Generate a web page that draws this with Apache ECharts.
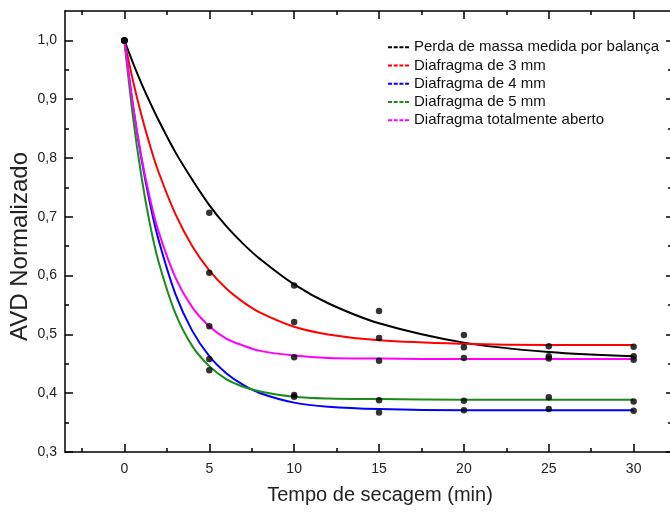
<!DOCTYPE html>
<html>
<head>
<meta charset="utf-8">
<script src="https://cdn.jsdelivr.net/npm/echarts@6/dist/echarts.min.js"></script>
<style>
  html, body { margin: 0; padding: 0; background: #fff; }
  #chart { width: 670px; height: 515px; }
</style>
</head>
<body>
<div id="chart"></div>
<script>
// medidas (pontos pretos)
var tempos = [0, 5, 10, 15, 20, 25, 30];
var perdaMassa = [1.0, 0.707, 0.583, 0.540, 0.499, 0.463, 0.463];
var diaf3 = [1.0, 0.605, 0.521, 0.494, 0.478, 0.480, 0.479];
var diaf4 = [1.0, 0.458, 0.394, 0.367, 0.371, 0.373, 0.370];
var diaf5 = [1.0, 0.439, 0.397, 0.388, 0.387, 0.393, 0.386];
var diafAberto = [1.0, 0.514, 0.461, 0.455, 0.460, 0.459, 0.457];

// curvas ajustadas
var temposCurva = [0, 0.5, 1, 1.5, 2, 3, 4, 5, 6, 7, 8, 10, 12, 15, 20, 25, 30];
var curvaPerda = [1.0, 0.962, 0.927, 0.895, 0.865, 0.810, 0.763, 0.720, 0.684, 0.654, 0.628, 0.585, 0.553, 0.519, 0.486, 0.470, 0.463];
var curva3 = [1.0, 0.932, 0.873, 0.822, 0.777, 0.705, 0.650, 0.609, 0.578, 0.555, 0.537, 0.513, 0.500, 0.490, 0.484, 0.482, 0.482];
var curva4 = [1.0, 0.890, 0.799, 0.724, 0.662, 0.569, 0.506, 0.463, 0.434, 0.414, 0.400, 0.384, 0.377, 0.373, 0.371, 0.371, 0.371];
var curva5 = [1.0, 0.871, 0.769, 0.688, 0.625, 0.536, 0.480, 0.446, 0.424, 0.411, 0.403, 0.394, 0.391, 0.390, 0.389, 0.389, 0.389];
var curvaAberto = [1.0, 0.890, 0.802, 0.732, 0.676, 0.597, 0.546, 0.514, 0.493, 0.481, 0.472, 0.464, 0.460, 0.459, 0.458, 0.458, 0.458];

var nomes = ['Perda de massa medida por balança', 'Diafragma de 3 mm', 'Diafragma de 4 mm', 'Diafragma de 5 mm', 'Diafragma totalmente aberto'];
var cores = ['#000000', '#ff0000', '#0000ff', '#1a8c1a', '#ff00ff'];

var xMajor = [0, 5, 10, 15, 20, 25, 30];
var xMinor = [-2.5, 2.5, 7.5, 12.5, 17.5, 22.5, 27.5];
var yMajor = [0.3, 0.4, 0.5, 0.6, 0.7, 0.8, 0.9, 1.0];
var yMinor = [0.35, 0.45, 0.55, 0.65, 0.75, 0.85, 0.95];

var fonte = '"Liberation Sans", Arial, sans-serif';
var medidas = [perdaMassa, diaf3, diaf4, diaf5, diafAberto];
var curvas = [curvaPerda, curva3, curva4, curva5, curvaAberto];

function par(xs, ys) {
    return xs.map(function (x, i) { return [x, ys[i]]; });
}

function eixoX(pos, ticks, len, comLinha) {
    return {
        type: 'value', position: pos, min: -3.5, max: 32.2,
        axisLine: { show: comLinha, onZero: false, lineStyle: { color: '#000', width: 1.5 } },
        axisTick: { show: true, inside: true, length: len, customValues: ticks, lineStyle: { color: '#000', width: 1.5 } },
        axisLabel: { show: false },
        splitLine: { show: false }
    };
}
function eixoY(pos, ticks, len, comLinha) {
    return {
        type: 'value', position: pos, min: 0.3, max: 1.05,
        axisLine: { show: comLinha, onZero: false, lineStyle: { color: '#000', width: 1.5 } },
        axisTick: { show: true, inside: true, length: len, customValues: ticks, lineStyle: { color: '#000', width: 1.5 } },
        axisLabel: { show: false },
        splitLine: { show: false }
    };
}

var xBase = eixoX('bottom', xMajor, 8, true);
xBase.axisLabel = { show: true, customValues: xMajor, margin: 10, fontSize: 14, color: '#222', fontFamily: fonte };
xBase.name = 'Tempo de secagem (min)';
xBase.nameLocation = 'middle';
xBase.nameGap = 33;
xBase.nameMoveOverlap = false;
xBase.nameTextStyle = { fontSize: 20, color: '#222', fontFamily: fonte, padding: [0, 0, 0, 24] };

var yBase = eixoY('left', yMajor, 8, true);
yBase.axisLabel = {
    show: true, customValues: yMajor, margin: 8, fontSize: 14, color: '#222', fontFamily: fonte,
    formatter: function (v) { return v.toFixed(1).replace('.', ','); }
};
yBase.name = 'AVD Normalizado';
yBase.nameLocation = 'middle';
yBase.nameGap = 33;
yBase.nameMoveOverlap = false;
yBase.nameTextStyle = { fontSize: 24, color: '#222', fontFamily: fonte, padding: [0, 30, 0, 0] };

var series = [];
curvas.forEach(function (c, i) {
    series.push({
        name: nomes[i], type: 'line', data: par(temposCurva, c),
        smooth: 0.35, showSymbol: false, symbol: 'none',
        lineStyle: { color: cores[i], width: 2 }, itemStyle: { color: cores[i] }, z: 2
    });
});
medidas.forEach(function (m, i) {
    series.push({
        name: 'pontos ' + (i + 1), type: 'scatter', data: par(tempos, m),
        symbolSize: 6.5, itemStyle: { color: '#000' }, z: 5
    });
});

var chart = echarts.init(document.getElementById('chart'));
chart.setOption({
    animation: false,
    grid: { left: 65, top: 11, width: 606, height: 441, outerBoundsMode: 'none', containLabel: false },
    xAxis: [xBase, eixoX('bottom', xMinor, 4, false), eixoX('top', xMajor, 8, true), eixoX('top', xMinor, 4, false)],
    yAxis: [yBase, eixoY('left', yMinor, 4, false), eixoY('right', yMajor, 5, true), eixoY('right', yMinor, 3, false)],
    legend: {
        orient: 'vertical', left: 388, top: 38, padding: 0, itemGap: 0,
        itemWidth: 21, itemHeight: 2,
        icon: 'path://M0,0h4v2h-4zM5.7,0h4v2h-4zM11.4,0h4v2h-4zM17,0h4v2h-4z',
        data: nomes,
        textStyle: { fontSize: 15, lineHeight: 18.3, color: '#111', fontFamily: fonte }
    },
    series: series
});
</script>
</body>
</html>
